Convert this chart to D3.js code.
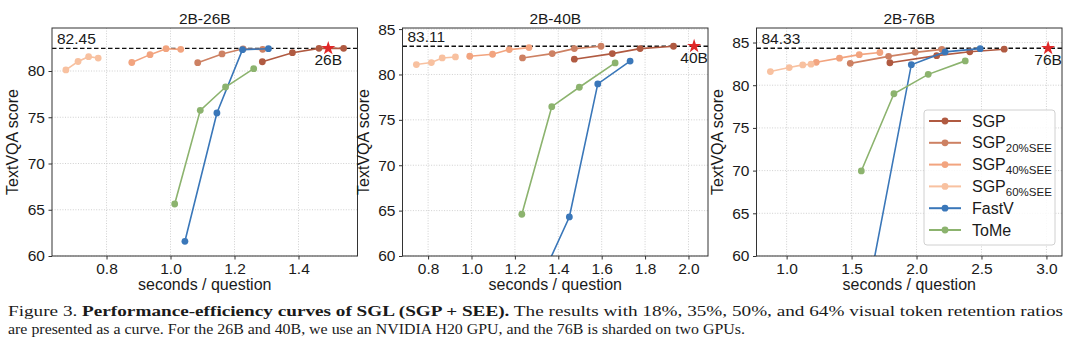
<!DOCTYPE html>
<html>
<head>
<meta charset="utf-8">
<script src="https://cdn.jsdelivr.net/npm/d3@7"></script>
<style>
body { margin: 0; background: #fff; }
svg text { font-family: "Liberation Sans", Arial, sans-serif; fill: #1a1a1a; }
svg .didascalia text { font-family: "Liberation Serif", "Times New Roman", serif; }
</style>
</head>
<body>
<script>
"use strict"
/* titoli dei pannelli e riferimento (modello grande) */
const titoli = ["2B-26B", "2B-40B", "2B-76B"];
const punteggiRif = [82.45, 83.11, 84.33];
const tempiRif = [1.493, 2.026, 3.013];
const etichetteRif = ["26B", "40B", "76B"];

/* serie: nome, tempi (s/domanda) e punteggi TextVQA per pannello */
const nomiSerie = ["SGP", "SGP20", "SGP40", "SGP60", "FastV", "ToMe"];
const pediciSerie = ["", "20%SEE", "40%SEE", "60%SEE", "", ""];
const tempiSGP = [[1.287, 1.381, 1.464, 1.541], [1.474, 1.649, 1.777, 1.931], [1.795, 2.155, 2.41, 2.675]];
const punteggiSGP = [[81.0, 81.98, 82.45, 82.45], [81.68, 82.3, 82.85, 83.11], [82.63, 83.46, 83.92, 84.22]];
const tempiSGP20 = [[1.085, 1.161, 1.227, 1.288], [1.235, 1.372, 1.474, 1.597], [1.49, 1.785, 1.99, 2.195]];
const punteggiSGP20 = [[80.9, 81.85, 82.4, 82.34], [81.82, 82.3, 82.85, 83.11], [82.56, 83.38, 83.85, 84.2]];
const tempiSGP40 = [[0.879, 0.936, 0.986, 1.032], [0.992, 1.097, 1.174, 1.265], [1.228, 1.407, 1.559, 1.718]];
const punteggiSGP40 = [[80.92, 81.77, 82.41, 82.34], [82.01, 82.23, 82.74, 82.96], [82.68, 83.17, 83.58, 83.83]];
const tempiSGP60 = [[0.673, 0.711, 0.744, 0.774], [0.746, 0.815, 0.865, 0.926], [0.875, 1.02, 1.124, 1.188]];
const punteggiSGP60 = [[80.12, 81.03, 81.55, 81.4], [81.09, 81.31, 81.82, 81.93], [81.6, 82.07, 82.38, 82.46]];
const tempiFastV = [[1.045, 1.145, 1.225, 1.306], [1.33, 1.451, 1.582, 1.731], [1.65, 1.96, 2.22, 2.49]];
const punteggiFastV = [[61.59, 75.46, 82.31, 82.41], [57.96, 64.3, 78.96, 81.48], [57.7, 82.4, 83.9, 84.28]];
const tempiToMe = [[1.013, 1.093, 1.172, 1.26], [1.232, 1.37, 1.497, 1.662], [1.575, 1.826, 2.09, 2.375]];
const punteggiToMe = [[65.62, 75.75, 78.27, 80.25], [64.6, 76.45, 78.59, 81.27], [69.96, 79.0, 81.27, 82.85]];

/* tacche degli assi */
const taccheX = [[0.8, 1.0, 1.2, 1.4], [0.8, 1.0, 1.2, 1.4, 1.6, 1.8, 2.0], [1.0, 1.5, 2.0, 2.5, 3.0]];
const taccheY = [60, 65, 70, 75, 80, 85];
const limitiY = [[60, 84.65], [60, 85.12], [60, 86.7]];

const tempiSerie = [tempiSGP, tempiSGP20, tempiSGP40, tempiSGP60, tempiFastV, tempiToMe];
const punteggiSerie = [punteggiSGP, punteggiSGP20, punteggiSGP40, punteggiSGP60, punteggiFastV, punteggiToMe];
const colori = ["#b05a41", "#cd8163", "#f2a47f", "#f8c1a0", "#3a77b9", "#8cb36e"];

/* misure in pixel */
const grafico = { larghezza: 1080, altezza: 354 };
const sinistre = [52, 402.5, 756.5];
const larghezzaPannello = 305.5;
const alto = 28, basso = 256;

const svg = d3.select("body").append("svg")
    .attr("width", grafico.larghezza)
    .attr("height", grafico.altezza);

titoli.forEach(function (titolo, p) {
    /* dominio x come matplotlib: estensione dei dati + 5% */
    const tuttiTempi = d3.merge(tempiSerie.map(function (s) { return s[p] })).concat([tempiRif[p]]);
    const [minT, maxT] = d3.extent(tuttiTempi);
    const margine = (maxT - minT) * 0.05;
    const scalaX = d3.scaleLinear()
        .domain([minT - margine, maxT + margine])
        .range([sinistre[p], sinistre[p] + larghezzaPannello]);
    const scalaY = d3.scaleLinear().domain(limitiY[p]).range([basso, alto]);
    const destra = sinistre[p] + larghezzaPannello;

    const g = svg.append("g");
    g.append("clipPath").attr("id", "ritaglio" + p)
        .append("rect")
        .attr("x", sinistre[p]).attr("y", alto)
        .attr("width", larghezzaPannello).attr("height", basso - alto);

    /* griglia punteggiata */
    const ty = taccheY.filter(function (v) { return v <= limitiY[p][1] });
    g.selectAll(".grigliaY").data(ty).enter().append("line")
        .attr("x1", sinistre[p]).attr("x2", destra)
        .attr("y1", scalaY).attr("y2", scalaY)
        .attr("stroke", "#c4c4c4").attr("stroke-width", 0.8).attr("stroke-dasharray", "1,1.6");
    g.selectAll(".grigliaX").data(taccheX[p]).enter().append("line")
        .attr("x1", scalaX).attr("x2", scalaX)
        .attr("y1", alto).attr("y2", basso)
        .attr("stroke", "#c4c4c4").attr("stroke-width", 0.8).attr("stroke-dasharray", "1,1.6");

    /* assi */
    const asseX = d3.axisBottom(scalaX).tickValues(taccheX[p]).tickSize(3.5).tickPadding(3)
        .tickFormat(d3.format(".1f"));
    const gx = g.append("g").attr("transform", `translate(0,${basso})`).call(asseX);
    const asseY = d3.axisLeft(scalaY).tickValues(ty).tickSize(3.5).tickPadding(3.5);
    const gy = g.append("g").attr("transform", `translate(${sinistre[p]},0)`).call(asseY);
    [gx, gy].forEach(function (a) {
        a.select(".domain").remove();
        a.selectAll("line").attr("stroke", "#333");
        a.selectAll("text").attr("font-size", "15.5px").attr("fill", "#1a1a1a")
            .attr("font-family", "Liberation Sans, Arial, sans-serif");
    });

    /* linea tratteggiata del modello grande */
    const yRif = scalaY(punteggiRif[p]);
    g.append("line")
        .attr("x1", sinistre[p]).attr("x2", destra)
        .attr("y1", yRif).attr("y2", yRif)
        .attr("stroke", "#111").attr("stroke-width", 1.3).attr("stroke-dasharray", "4.5,2.5");
    g.append("text")
        .attr("x", sinistre[p] + 5).attr("y", yRif - 4)
        .attr("font-size", "15.5px")
        .text(punteggiRif[p].toFixed(2));

    /* curve */
    const linea = d3.line()
        .x(function (d) { return scalaX(d[0]) })
        .y(function (d) { return scalaY(d[1]) });
    const curve = g.append("g").attr("clip-path", `url(#ritaglio${p})`);
    nomiSerie.forEach(function (nome, s) {
        const punti = d3.zip(tempiSerie[s][p], punteggiSerie[s][p]);
        curve.append("path").datum(punti)
            .attr("d", linea)
            .attr("fill", "none")
            .attr("stroke", colori[s])
            .attr("stroke-width", 1.6);
        curve.selectAll(null).data(punti).enter().append("circle")
            .attr("cx", function (d) { return scalaX(d[0]) })
            .attr("cy", function (d) { return scalaY(d[1]) })
            .attr("r", 3.4)
            .attr("fill", colori[s]);
    });

    /* stella del modello grande */
    g.append("path")
        .attr("d", d3.symbol(d3.symbolStar).size(62)())
        .attr("transform", `translate(${scalaX(tempiRif[p])},${yRif})`)
        .attr("fill", "#e02828");
    g.append("text")
        .attr("x", scalaX(tempiRif[p])).attr("y", yRif + 17)
        .attr("text-anchor", "middle").attr("font-size", "15.5px")
        .text(etichetteRif[p]);

    /* cornice */
    g.append("rect")
        .attr("x", sinistre[p]).attr("y", alto)
        .attr("width", larghezzaPannello).attr("height", basso - alto)
        .attr("fill", "none").attr("stroke", "#333").attr("stroke-width", 1);

    /* titolo ed etichette */
    const centro = sinistre[p] + larghezzaPannello / 2;
    g.append("text").attr("x", centro).attr("y", 24)
        .attr("text-anchor", "middle").attr("font-size", "15.5px").text(titolo);
    g.append("text").attr("x", centro).attr("y", 290)
        .attr("text-anchor", "middle").attr("font-size", "16px").text("seconds / question");
    g.append("text")
        .attr("transform", `translate(${sinistre[p] - 34},${(alto + basso) / 2}) rotate(-90)`)
        .attr("text-anchor", "middle").attr("font-size", "16px").text("TextVQA score");
});

/* legenda nel terzo pannello */
const legenda = svg.append("g").attr("transform", "translate(924,110)");
legenda.append("rect")
    .attr("width", 131).attr("height", 135).attr("rx", 3)
    .attr("fill", "#fff").attr("fill-opacity", 0.85)
    .attr("stroke", "#d0d0d0").attr("stroke-width", 1);
const righe = legenda.selectAll(".riga").data(nomiSerie).enter().append("g")
    .attr("transform", function (d, i) { return `translate(0,${11 + i * 21.8})` });
righe.append("line")
    .attr("x1", 5).attr("x2", 37)
    .attr("stroke", function (d, i) { return colori[i] })
    .attr("stroke-width", 2);
righe.append("circle")
    .attr("cx", 21).attr("r", 3.4)
    .attr("fill", function (d, i) { return colori[i] });
const testi = righe.append("text")
    .attr("x", 48).attr("y", 5.5)
    .attr("font-size", "16px");
testi.append("tspan").text(function (d, i) { return pediciSerie[i] ? "SGP" : d });
testi.append("tspan")
    .attr("dy", 4).attr("font-size", "11.5px")
    .text(function (d, i) { return pediciSerie[i] });

/* didascalia */
const didascalia = svg.append("g").attr("class", "didascalia");
const riga1 = didascalia.append("text")
    .attr("x", 8).attr("y", 316).attr("font-size", "15.5px")
    .attr("textLength", 1055).attr("lengthAdjust", "spacingAndGlyphs");
riga1.append("tspan").text("Figure 3. ");
riga1.append("tspan").attr("font-weight", "bold").text("Performance-efficiency curves of SGL (SGP + SEE).");
riga1.append("tspan").text(" The results with 18%, 35%, 50%, and 64% visual token retention ratios");
didascalia.append("text")
    .attr("x", 8).attr("y", 334).attr("font-size", "15.5px")
    .attr("textLength", 737).attr("lengthAdjust", "spacingAndGlyphs")
    .text("are presented as a curve. For the 26B and 40B, we use an NVIDIA H20 GPU, and the 76B is sharded on two GPUs.");
</script>
</body>
</html>
